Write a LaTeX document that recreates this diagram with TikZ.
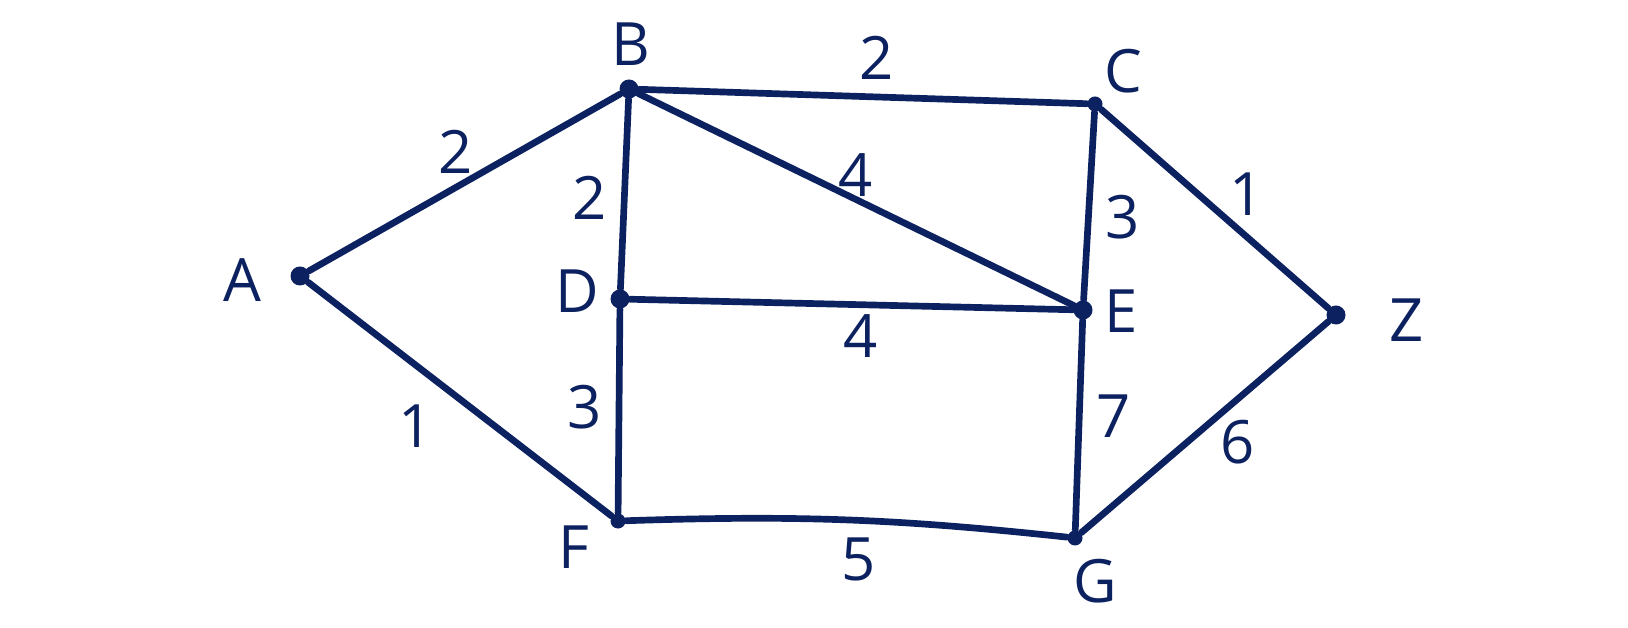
\documentclass[tikz,border=0pt]{standalone}
\usepackage{xcolor}
\usepackage{fontspec}
\setmainfont{Open Sans}
\usepackage{tikz}
\usetikzlibrary{positioning, calc}
\definecolor{ink}{RGB}{12, 33, 96}

\begin{document}
\begin{tikzpicture}[
    x=0.01cm, y=-0.01cm,
    vertex/.style={circle, fill=ink, inner sep=0pt, minimum size=0.19cm},
    vname/.style={text=ink, font=\fontsize{17}{20}\selectfont, inner sep=0pt},
    weight/.style={text=ink, font=\fontsize{17}{20}\selectfont, inner sep=2pt},
    road/.style={draw=ink, line width=1.9pt, line cap=round}
]
\useasboundingbox (0,0) rectangle (1628,628);

% Vertices
\node[vertex] (A) at (300,276) {};
\node[vertex] (B) at (629,89) {};
\node[vertex, minimum size=0.15cm] (C) at (1095,104) {};
\node[vertex] (D) at (620,299) {};
\node[vertex] (E) at (1083,310) {};
\node[vertex, minimum size=0.15cm] (F) at (618,521) {};
\node[vertex, minimum size=0.15cm] (G) at (1075,538) {};
\node[vertex] (Z) at (1336,315) {};

% Vertex names
\node[vname] (nA) at (242,280) {A};
\node[vname] (nB) at (631,44) {B};
\node[vname] (nC) at (1123,71) {C};
\node[vname] (nD) at (577,291) {D};
\node[vname] (nE) at (1121,311) {E};
\node[vname] (nF) at (574,547) {F};
\node[vname] (nG) at (1095,581) {G};
\node[vname] (nZ) at (1407,320) {Z};

% Edges
\draw[road] (A) -- node[weight, pos=0.47, above=1pt] {2} (B);
\draw[road] (A) -- node[weight, pos=0.46, below left=2pt] {1} (F);
\draw[road] (B) -- node[weight, pos=0.53, above=2pt] {2} (C);
\draw[road] (B) -- node[weight, pos=0.52, left=2pt] {2} (D);
\draw[road] (B) -- node[weight, pos=0.5, above, inner sep=0pt] {4} (E);
\draw[road] (C) -- node[weight, pos=0.56, right=2pt] {3} (E);
\draw[road] (C) -- node[weight, pos=0.55, above right, inner sep=0pt] {1} (Z);
\draw[road] (D) -- node[weight, pos=0.52, below] {4} (E);
\draw[road] (D) -- node[weight, pos=0.48, left=2pt] {3} (F);
\draw[road] (F) to[bend left=4] node[weight, pos=0.53, below=2pt] {5} (G);
\draw[road] (E) -- node[weight, pos=0.46, right=2pt] {7} (G);
\draw[road] (G) -- node[weight, pos=0.55, below right, inner sep=0pt] {6} (Z);

\end{tikzpicture}
\end{document}
